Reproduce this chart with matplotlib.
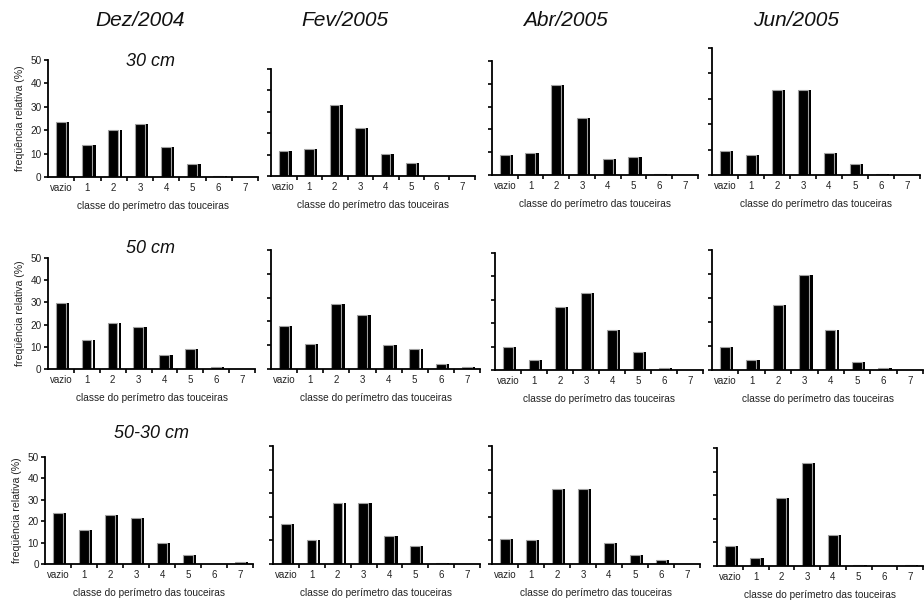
import numpy as np
import matplotlib
matplotlib.use("Agg")
import matplotlib.pyplot as plt
from matplotlib import font_manager

plt.rcParams['font.family'] = ['Liberation Sans', 'DejaVu Sans']

names = {f.name for f in font_manager.fontManager.ttflist}
title_font = 'Liberation Sans Narrow' if 'Liberation Sans Narrow' in names else 'Liberation Sans'

categories = ['vazio', '1', '2', '3', '4', '5', '6', '7']
months = ['Dez/2004', 'Fev/2005', 'Abr/2005', 'Jun/2005']
depths = ['30 cm', '50 cm', '50-30 cm']

# frequencia relativa (%) por classe
dez_30 = [23.6, 13.5, 20.0, 22.8, 12.8, 5.4, 0.6, 0]
fev_30 = [11.5, 12.5, 33.0, 22.5, 10.2, 5.9, 0, 0]
abr_30 = [8.7, 9.8, 39.3, 25.2, 7.0, 7.7, 0.4, 0]
jun_30 = [9.5, 7.9, 33.3, 33.3, 8.8, 4.2, 0.4, 0]

dez_50 = [29.6, 13.0, 20.6, 19.0, 6.5, 9.2, 0.8, 0]
fev_50 = [18.2, 10.7, 27.2, 22.6, 10.0, 8.6, 2.2, 0.8]
abr_50 = [10.0, 4.3, 27.0, 33.1, 17.1, 7.6, 1.0, 0]
jun_50 = [9.7, 4.2, 26.9, 39.5, 16.7, 3.5, 1.0, 0]

dez_5030 = [23.9, 16.1, 23.0, 21.7, 10.0, 4.1, 0, 0.8]
fev_5030 = [17.1, 10.0, 26.0, 26.0, 11.7, 7.8, 0.5, 0]
abr_5030 = [10.7, 10.0, 31.8, 31.8, 8.7, 3.7, 1.8, 0]
jun_5030 = [8.5, 3.3, 28.9, 43.8, 13.2, 0.5, 0, 0.5]

rows = [[dez_30, fev_30, abr_30, jun_30],
        [dez_50, fev_50, abr_50, jun_50],
        [dez_5030, fev_5030, abr_5030, jun_5030]]

W, H = 924, 601
# axes boxes in pixels: left, right, top, bottom
boxes = [[(48, 258, 60, 177), (271, 475, 69, 176), (492, 698, 61, 175), (712, 920, 48, 175)],
         [(48, 255, 258, 369), (271, 480, 250, 369), (495, 703, 253, 370), (712, 923, 250, 370)],
         [(45, 253, 457, 564), (273, 480, 446, 564), (492, 700, 446, 564), (717, 923, 448, 566)]]

fig = plt.figure(figsize=(9.24, 6.01), dpi=100)
x = np.arange(len(categories))

for i in range(3):
    for j in range(4):
        l, r, t, b = boxes[i][j]
        ax = fig.add_axes([l / W, 1 - b / H, (r - l) / W, (b - t) / H])
        vals = rows[i][j]
        ax.bar(x - 0.01, vals, width=0.38, color='black', edgecolor='#a0a0a0', linewidth=0.8)
        ax.bar(x + 0.27, vals, width=0.09, color='black', linewidth=0)
        ax.set_xlim(-0.5, 7.5)
        ax.set_ylim(0, 50)
        for s in ['top', 'right']:
            ax.spines[s].set_visible(False)
        for s in ['left', 'bottom']:
            ax.spines[s].set_linewidth(1.3)
        ax.set_yticks(range(0, 51, 10))
        ax.tick_params(axis='y', direction='out', length=3, width=1.2, labelsize=7.2, pad=1.5,
                       labelcolor='#222222')
        if j > 0:
            ax.tick_params(axis='y', labelleft=False)
        else:
            ax.set_ylabel('freqüência relativa (%)', fontsize=7.6, labelpad=4, color='#222222')
        ax.set_xticks(x)
        ax.set_xticklabels(categories)
        ax.tick_params(axis='x', which='major', length=0, labelsize=7, pad=4, labelcolor='#222222')
        ax.set_xticks(np.arange(0.5, 8.0, 1), minor=True)
        ax.tick_params(axis='x', which='minor', direction='out', length=3, width=1.2)
        ax.set_xlabel('classe do perímetro das touceiras', fontsize=7.3, labelpad=6, color='#222222')

for j, m in enumerate(months):
    cx = [140, 345, 565, 796][j]
    fig.text(cx / W, 1 - 20 / H, m, ha='center', va='center', fontsize=15,
             style='italic', family=title_font, color='#111111')

for i, d in enumerate(depths):
    cy = [61, 248, 433][i]
    fig.text(151 / W, 1 - cy / H, d, ha='center', va='center', fontsize=13, style='italic',
             color='#111111')

fig.savefig('out.png', dpi=100)
